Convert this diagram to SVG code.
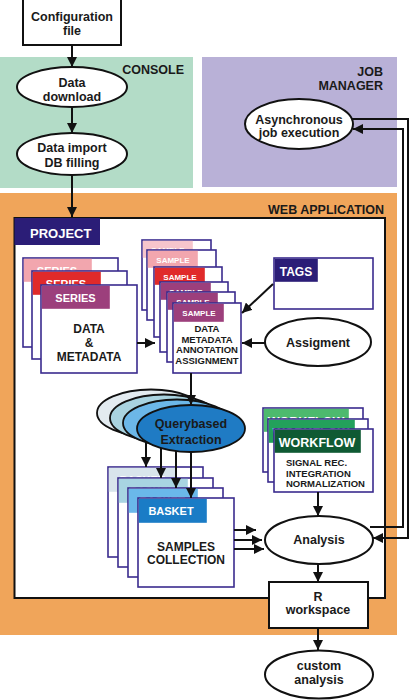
<svg xmlns="http://www.w3.org/2000/svg" width="410" height="700" viewBox="0 0 410 700">
<defs>
<marker id="ah" markerUnits="userSpaceOnUse" markerWidth="10" markerHeight="10" refX="10" refY="5" orient="auto">
<path d="M0,0 L10,5 L0,10 z" fill="#111"/>
</marker>
<style>
.t{font-family:"Liberation Sans",Arial,sans-serif;font-weight:bold;fill:#1a1a1a;font-size:12.5px}
.c{text-anchor:middle}
.e{text-anchor:end}
.w{fill:#fff}
.card{fill:#fff;stroke:#3a2b8e;stroke-width:1.6}
.box{fill:#fff;stroke:#111;stroke-width:2}
.el{fill:#fff;stroke:#111;stroke-width:2}
.ln{fill:none;stroke:#111;stroke-width:2}
.ar{marker-end:url(#ah)}
.sm{font-size:8px}
.bd{font-size:9.5px}
</style>
</defs>
<rect width="410" height="700" fill="#fff"/>

<g id="console">
<rect x="0" y="57" width="193" height="131" fill="#b3dcc7"/>
<text class="t e" x="184" y="74">CONSOLE</text>
</g>
<g id="jobmanager">
<rect x="202" y="57" width="195" height="130" fill="#b9b1d7"/>
<text class="t e" x="383" y="76">JOB</text>
<text class="t e" x="383" y="90">MANAGER</text>
</g>
<g id="webapp">
<rect x="0" y="193" width="397" height="442" fill="#f0a55a"/>
<text class="t e" x="384" y="214">WEB APPLICATION</text>
</g>
<g id="project">
<rect x="14.5" y="218" width="370.5" height="380" class="box"/>
<rect x="14.5" y="218" width="85.5" height="27" fill="#2b1d77"/>
<text class="t w" x="30" y="238" style="font-size:13px">PROJECT</text>
</g>

<g id="config">
<rect x="23" y="-1" width="98" height="46" class="box"/>
<text class="t c" x="72" y="21">Configuration</text>
<text class="t c" x="72" y="35">file</text>
</g>
<g id="download">
<ellipse cx="72" cy="87" rx="55" ry="20" class="el"/>
<text class="t c" x="72" y="87">Data</text>
<text class="t c" x="72" y="101">download</text>
</g>
<g id="import">
<ellipse cx="72" cy="154" rx="55" ry="21" class="el"/>
<text class="t c" x="72" y="152">Data import</text>
<text class="t c" x="72" y="167">DB filling</text>
</g>
<g id="async">
<ellipse cx="299" cy="124" rx="54" ry="25" class="el"/>
<text class="t c" x="299" y="124">Asynchronous</text>
<text class="t c" x="299" y="137">job execution</text>
</g>

<g id="series">
<rect x="23" y="258" width="95" height="89" class="card"/>
<rect x="23.8" y="258.8" width="68" height="23" fill="#f2a6ae"/>
<text class="t w c" x="57" y="275" style="font-size:11px">SERIES</text>
<rect x="32" y="271" width="95" height="88" class="card"/>
<rect x="32.8" y="271.8" width="68" height="23" fill="#e02a2a"/>
<text class="t w c" x="66" y="288" style="font-size:11px">SERIES</text>
<rect x="41" y="285" width="96" height="88" class="card"/>
<rect x="41.8" y="285.8" width="68" height="23" fill="#9c3f7c"/>
<text class="t w c" x="75.5" y="302" style="font-size:11px">SERIES</text>
<text class="t c" x="89" y="333" style="font-size:12px">DATA</text>
<text class="t c" x="89" y="347" style="font-size:12px">&amp;</text>
<text class="t c" x="89" y="361" style="font-size:12px">METADATA</text>
</g>

<g id="samples">
<rect x="142" y="240" width="69" height="70" class="card"/>
<rect x="142.8" y="240.8" width="50" height="17" fill="#f6c5cc"/>
<text class="t w c sm" x="168" y="253">SAMPLE</text>
<rect x="147" y="250" width="69" height="70" class="card"/>
<rect x="147.8" y="250.8" width="50" height="17" fill="#f2a6ae"/>
<text class="t w c sm" x="173" y="263">SAMPLE</text>
<rect x="154" y="267" width="68" height="70" class="card"/>
<rect x="154.8" y="267.8" width="50" height="17" fill="#e02a2a"/>
<text class="t w c sm" x="180" y="280">SAMPLE</text>
<rect x="160" y="282" width="68" height="70" class="card"/>
<rect x="160.8" y="282.8" width="50" height="17" fill="#9c3f7c"/>
<text class="t w c sm" x="186" y="295">SAMPLE</text>
<rect x="167" y="292" width="68" height="70" class="card"/>
<rect x="167.8" y="292.8" width="50" height="17" fill="#9c3f7c"/>
<text class="t w c sm" x="193" y="305">SAMPLE</text>
<rect x="173" y="303" width="68" height="70" class="card"/>
<rect x="173.8" y="303.8" width="50" height="18" fill="#9c3f7c"/>
<text class="t w c sm" x="199" y="316">SAMPLE</text>
<text class="t c bd" x="207" y="332">DATA</text>
<text class="t c bd" x="207" y="342.5">METADATA</text>
<text class="t c bd" x="207" y="353">ANNOTATION</text>
<text class="t c bd" x="207" y="363.5">ASSIGNMENT</text>
</g>

<g id="tags">
<rect x="274" y="258" width="99" height="51" class="card"/>
<rect x="274.8" y="258.8" width="43" height="23" fill="#2b1d77"/>
<text class="t w c" x="296" y="276" style="font-size:12px">TAGS</text>
</g>
<g id="assigment">
<ellipse cx="318" cy="342" rx="53" ry="24" class="el"/>
<text class="t c" x="318" y="347">Assigment</text>
</g>

<g id="query">
<ellipse cx="151" cy="413" rx="54" ry="23.5" fill="#e3ebf0" stroke="#111" stroke-width="1.8"/>
<ellipse cx="164" cy="418" rx="54" ry="23.5" fill="#a9d3e0" stroke="#111" stroke-width="1.8"/>
<ellipse cx="177" cy="423" rx="54" ry="23.5" fill="#6cb7e8" stroke="#111" stroke-width="1.8"/>
<ellipse cx="191" cy="428.5" rx="54" ry="23.5" fill="#1f7bc4" stroke="#111" stroke-width="1.8"/>
<text class="t c" x="191" y="428">Querybased</text>
<text class="t c" x="191" y="444">Extraction</text>
</g>

<g id="workflow">
<rect x="263" y="408" width="100" height="64" class="card"/>
<rect x="263.8" y="408.8" width="85" height="23" fill="#4dba6e"/>
<text class="t w c" x="306" y="426">WORKFLOW</text>
<rect x="268" y="419" width="100" height="63" class="card"/>
<rect x="268.8" y="419.8" width="86" height="23" fill="#23a15b"/>
<text class="t w c" x="311" y="437">WORKFLOW</text>
<rect x="274" y="429" width="99" height="63" class="card"/>
<rect x="274.8" y="429.8" width="86" height="23" fill="#0f5a33"/>
<text class="t w c" x="317" y="447">WORKFLOW</text>
<text class="t bd" x="286" y="466">SIGNAL REC.</text>
<text class="t bd" x="286" y="476.5">INTEGRATION</text>
<text class="t bd" x="286" y="487">NORMALIZATION</text>
</g>

<g id="basket">
<rect x="108" y="467" width="95" height="90" class="card"/>
<rect x="108.8" y="467.8" width="68" height="24" fill="#d9e5ec"/>
<text class="t w c" x="142" y="484" style="font-size:11px">BASKET</text>
<rect x="118" y="478" width="95" height="89" class="card"/>
<rect x="118.8" y="478.8" width="69" height="24" fill="#a8d4e2"/>
<text class="t w c" x="152" y="495" style="font-size:11px">BASKET</text>
<rect x="128" y="488" width="95" height="89" class="card"/>
<rect x="128.8" y="488.8" width="69" height="24" fill="#6ab8ea"/>
<text class="t w c" x="162" y="505" style="font-size:11px">BASKET</text>
<rect x="138" y="498" width="96" height="89" class="card"/>
<rect x="138.8" y="498.8" width="68" height="24" fill="#1a7cc6"/>
<text class="t w c" x="171" y="515" style="font-size:11px">BASKET</text>
<text class="t c" x="186" y="551" style="font-size:12px">SAMPLES</text>
<text class="t c" x="186" y="564" style="font-size:12px">COLLECTION</text>
</g>

<g id="analysis">
<ellipse cx="319" cy="540" rx="54" ry="24" class="el"/>
<text class="t c" x="319" y="544">Analysis</text>
</g>
<g id="rworkspace">
<rect x="269" y="582" width="99" height="46" class="box"/>
<text class="t c" x="318" y="601">R</text>
<text class="t c" x="318" y="614">workspace</text>
</g>
<g id="custom">
<ellipse cx="319" cy="674.5" rx="54" ry="24" class="el"/>
<text class="t c" x="319" y="670">custom</text>
<text class="t c" x="319" y="684">analysis</text>
</g>

<g id="connectors">
<path class="ln ar" d="M72,45 V67"/>
<path class="ln ar" d="M72,107 V133"/>
<path class="ln ar" d="M72,175 V217"/>
<path class="ln ar" d="M137,343 H155"/>
<path class="ln ar" d="M273,284 L242,313"/>
<path class="ln ar" d="M265,343 H242"/>
<path class="ln ar" d="M191,373 V405"/>
<path class="ln ar" d="M146,441 V467"/>
<path class="ln ar" d="M161,448 V478"/>
<path class="ln ar" d="M176,451 V488"/>
<path class="ln ar" d="M191,452 V498"/>
<path class="ln ar" d="M234,530 H256"/>
<path class="ln ar" d="M234,540 H262"/>
<path class="ln ar" d="M234,549 H264"/>
<path class="ln ar" d="M318,492 V516"/>
<path class="ln ar" d="M318,564 V582"/>
<path class="ln ar" d="M318,628 V650"/>
<path class="ln ar" d="M370,527 H403 V129 H353"/>
<path class="ln ar" d="M352,119 H408 V538 H373"/>
</g>
</svg>
